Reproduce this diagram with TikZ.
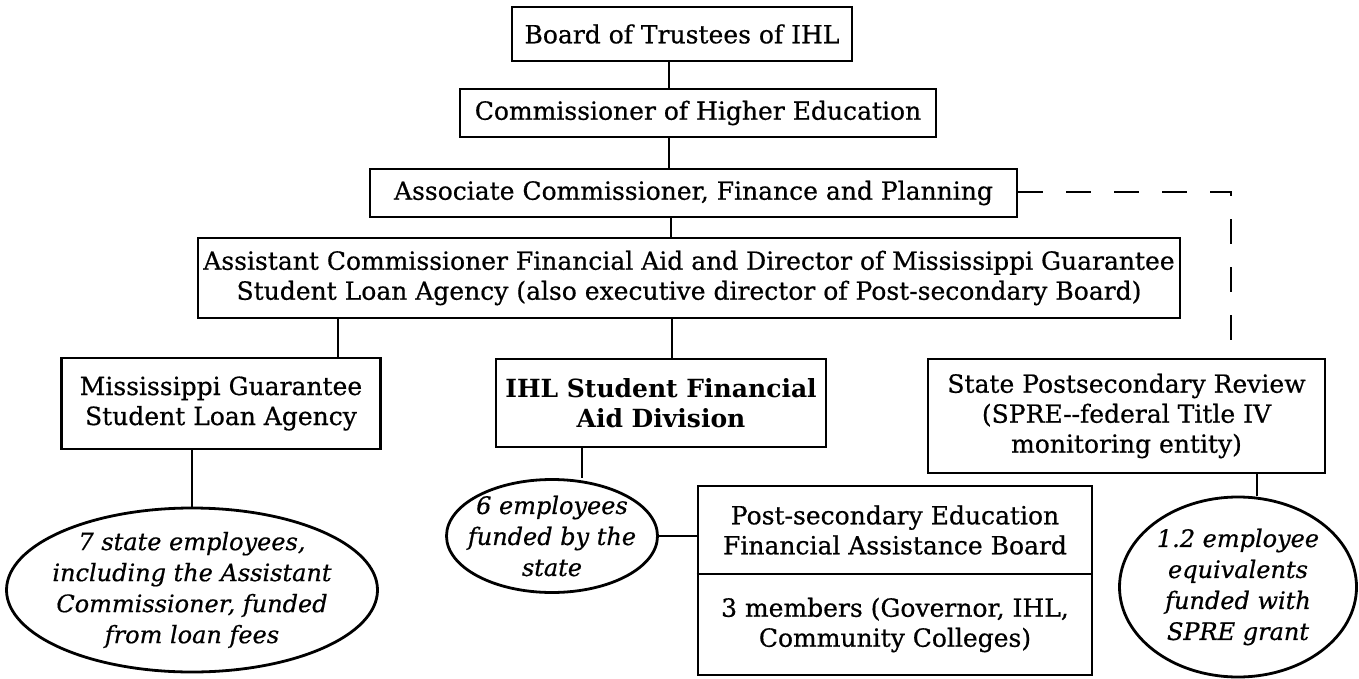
\documentclass[tikz,border=0pt]{standalone}
\usepackage{fontspec}
\setmainfont{DejaVu Serif}[UprightFeatures={FakeBold=0.6}, ItalicFeatures={FakeBold=0.6}]
\usetikzlibrary{shapes, positioning}

\begin{document}
\begin{tikzpicture}[x=1pt, y=-1pt,
        box/.style={draw, line width=2.8pt, rectangle, align=center, inner sep=0pt,
            font=\fontsize{25}{30}\selectfont},
        staff/.style={draw, line width=2.8pt, ellipse, align=center, inner sep=-15pt,
            font=\fontsize{24}{31}\selectfont\itshape},
        link/.style={line width=2.8pt},
        dotted link/.style={line width=2.2pt, dash pattern=on 25pt off 23pt}]
        \useasboundingbox (0, 0) rectangle (1359, 679);

        \node[box, minimum width=340pt, minimum height=54pt] (board) at (682, 34) {Board of Trustees of IHL};
        \node[box, minimum width=476pt, minimum height=48pt] (comm) at (698, 113) {Commissioner of Higher Education};
        \node[box, minimum width=647pt, minimum height=48pt] (assoc) at (693.5, 193) {Associate Commissioner, Finance and Planning};
        \node[box, minimum width=982pt, minimum height=80pt] (asst) at (689, 278) {Assistant Commissioner Financial Aid and Director of Mississippi Guarantee\\Student Loan Agency (also executive director of Post-secondary Board)};

        \node[box, minimum width=319pt, minimum height=91pt] (msgla) at (221, 403.5) {Mississippi Guarantee\\Student Loan Agency};
        \node[box, minimum width=330pt, minimum height=88pt, font=\fontsize{25}{30}\selectfont\bfseries] (ihl) at (661, 403) {IHL Student Financial\\Aid Division};
        \node[box, minimum width=397pt, minimum height=114pt] (spre) at (1126.5, 416) {State Postsecondary Review\\(SPRE-{}-federal Title IV\\monitoring entity)};

        \node[box, minimum width=394pt, minimum height=189pt] (psefab) at (895, 580.5) {};
        \node[align=center, font=\fontsize{25}{30}\selectfont] (psefabname) at (895, 530) {Post-secondary Education\\Financial Assistance Board};
        \node[align=center, font=\fontsize{25}{30}\selectfont] (psefabseats) at (895, 625) {3 members (Governor, IHL,\\Community Colleges)};

        \node[staff, minimum width=371pt, minimum height=164pt] (staff7) at (192, 590) {7 state employees,\\including the Assistant\\Commissioner, funded\\from loan fees};
        \node[staff, minimum width=211pt, minimum height=113pt] (staff6) at (552, 536) {6 employees\\funded by the\\state};
        \node[staff, minimum width=237pt, minimum height=180pt] (staff12) at (1238, 587) {1.2 employee\\equivalents\\funded with\\SPRE grant};

        \coordinate (turn) at (1231, 192);

        \draw[link] (board.south -| 669, 0) -- (comm.north -| 669, 0);
        \draw[link] (comm.south -| 669, 0) -- (assoc.north -| 669, 0);
        \draw[link] (assoc.south -| 671, 0) -- (asst.north -| 671, 0);
        \draw[link] (asst.south -| 338, 0) -- (msgla.north -| 338, 0);
        \draw[link] (asst.south -| 672, 0) -- (ihl.north -| 672, 0);
        \draw[link] (msgla.south -| staff7.north) -- (staff7.north);
        \draw[link] (ihl.south -| 582, 0) -- (staff6.north -| 582, 0);
        \draw[link] (staff6.east) -- (staff6.east -| psefab.west);
        \draw[link] (psefab.west |- 0, 574) -- (psefab.east |- 0, 574);
        \draw[link] (spre.south -| 1257, 0) -- (staff12.north -| 1257, 0);
        \draw[dotted link] (assoc.east |- turn) -- (turn) -- (spre.north -| turn);
\end{tikzpicture}
\end{document}
